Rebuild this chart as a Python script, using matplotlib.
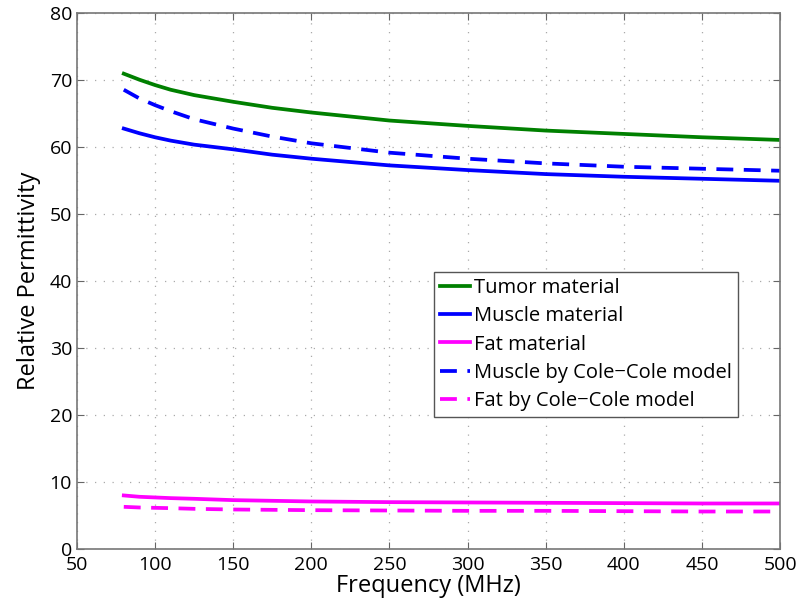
import matplotlib.pyplot as plt

plt.rcParams['font.family'] = ['Open Sans', 'DejaVu Sans']

# Frequency points (MHz)
freq = [80, 90, 100, 110, 125, 150, 175, 200, 250, 300, 350, 400, 450, 500]

# Relative permittivity
tumor = [71.0, 70.1, 69.3, 68.6, 67.8, 66.8, 65.9, 65.2, 64.0, 63.2, 62.5, 62.0, 61.5, 61.1]
muscle = [62.8, 62.1, 61.5, 61.0, 60.4, 59.7, 58.9, 58.3, 57.3, 56.6, 56.0, 55.6, 55.3, 55.0]
muscle_cole = [68.6, 67.3, 66.3, 65.4, 64.2, 62.8, 61.6, 60.6, 59.2, 58.3, 57.6, 57.1, 56.8, 56.5]
fat = [8.0, 7.8, 7.7, 7.6, 7.5, 7.3, 7.2, 7.1, 7.0, 6.95, 6.9, 6.85, 6.8, 6.8]
fat_cole = [6.3, 6.2, 6.15, 6.1, 6.0, 5.9, 5.85, 5.8, 5.75, 5.7, 5.7, 5.65, 5.6, 5.6]

fig = plt.figure(figsize=(8.01, 6.10), dpi=100)
ax = fig.add_axes([0.096, 0.1, 0.878, 0.878])

ax.plot(freq, tumor, color='#008000', lw=2.7, label='Tumor material')
ax.plot(freq, muscle, color='#0000ff', lw=2.7, label='Muscle material')
ax.plot(freq, fat, color='#ff00ff', lw=2.7, label='Fat material')
ax.plot(freq, muscle_cole, color='#0000ff', lw=2.7, ls=(0, (4.5, 2.8)), label='Muscle by Cole\u2212Cole model')
ax.plot(freq, fat_cole, color='#ff00ff', lw=2.7, ls=(0, (4.5, 2.8)), label='Fat by Cole\u2212Cole model')

ax.set_xlim(50, 500)
ax.set_ylim(0, 80)
ax.set_xticks(range(50, 501, 50))
ax.set_yticks(range(0, 81, 10))
ax.tick_params(direction='in', length=5, color='#666666', labelsize=14, top=True, right=True)
ax.tick_params(axis='x', pad=5)
for s in ax.spines.values():
    s.set_color('#777777')
    s.set_linewidth(1.2)
ax.grid(True, ls=(0, (1, 6)), color='#aaaaaa', lw=0.9)

ax.set_xlabel('Frequency (MHz)', fontsize=17, labelpad=0)
ax.set_ylabel('Relative Permittivity', fontsize=17, labelpad=6)

leg = ax.legend(loc='upper left', bbox_to_anchor=(0.508, 0.518), fontsize=14.5, handlelength=1.5,
                handletextpad=0.2, labelspacing=0.42, borderpad=0.3, borderaxespad=0,
                fancybox=False, edgecolor='#555555', framealpha=1)
leg.get_frame().set_linewidth(1.0)

plt.savefig('out.png', dpi=100)
